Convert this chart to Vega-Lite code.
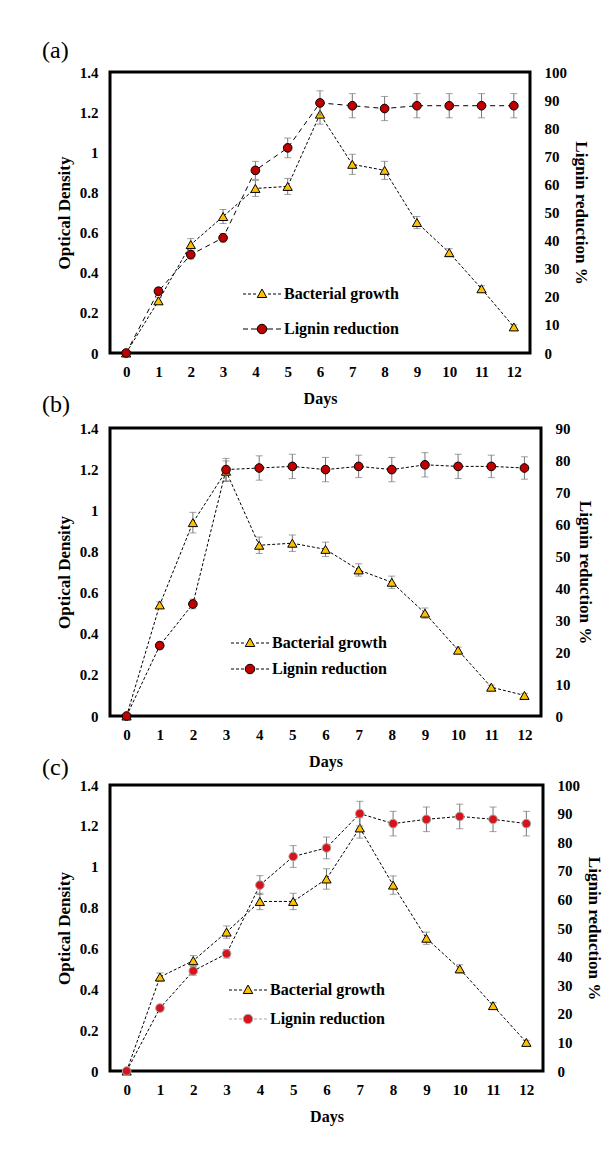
{
  "$schema": "https://vega.github.io/schema/vega-lite/v6.json",
  "background": "white",
  "padding": {"left": 40, "top": 37, "right": 5, "bottom": 5},
  "spacing": -17,
  "datasets": {
    "a": [
      {"day": 0, "od": 0, "ode": 0, "lig": 0, "lige": 0},
      {"day": 1, "od": 0.26, "ode": 0.015, "lig": 22, "lige": 1.2},
      {"day": 2, "od": 0.54, "ode": 0.03, "lig": 35, "lige": 1.5},
      {"day": 3, "od": 0.68, "ode": 0.035, "lig": 41, "lige": 1.5},
      {"day": 4, "od": 0.82, "ode": 0.04, "lig": 65, "lige": 3.2},
      {"day": 5, "od": 0.83, "ode": 0.04, "lig": 73, "lige": 3.5},
      {"day": 6, "od": 1.19, "ode": 0.05, "lig": 89, "lige": 4.3},
      {"day": 7, "od": 0.94, "ode": 0.05, "lig": 88, "lige": 4.3},
      {"day": 8, "od": 0.91, "ode": 0.045, "lig": 87, "lige": 4.3},
      {"day": 9, "od": 0.65, "ode": 0.03, "lig": 88, "lige": 4.3},
      {"day": 10, "od": 0.5, "ode": 0.02, "lig": 88, "lige": 4.3},
      {"day": 11, "od": 0.32, "ode": 0.015, "lig": 88, "lige": 4.3},
      {"day": 12, "od": 0.13, "ode": 0.01, "lig": 88, "lige": 4.3}
    ],
    "b": [
      {"day": 0, "od": 0, "ode": 0, "lig": 0, "lige": 0},
      {"day": 1, "od": 0.54, "ode": 0.015, "lig": 22, "lige": 1},
      {"day": 2, "od": 0.94, "ode": 0.05, "lig": 35, "lige": 1.5},
      {"day": 3, "od": 1.19, "ode": 0.05, "lig": 77, "lige": 3.5},
      {"day": 4, "od": 0.83, "ode": 0.04, "lig": 77.5, "lige": 3.8},
      {"day": 5, "od": 0.84, "ode": 0.04, "lig": 78, "lige": 3.8},
      {"day": 6, "od": 0.81, "ode": 0.035, "lig": 77, "lige": 3.8},
      {"day": 7, "od": 0.71, "ode": 0.03, "lig": 78, "lige": 3.5},
      {"day": 8, "od": 0.65, "ode": 0.03, "lig": 77, "lige": 3.8},
      {"day": 9, "od": 0.5, "ode": 0.025, "lig": 78.5, "lige": 3.8},
      {"day": 10, "od": 0.32, "ode": 0.015, "lig": 78, "lige": 3.8},
      {"day": 11, "od": 0.14, "ode": 0.01, "lig": 78, "lige": 3.5},
      {"day": 12, "od": 0.1, "ode": 0.01, "lig": 77.5, "lige": 3.5}
    ],
    "c": [
      {"day": 0, "od": 0, "ode": 0, "lig": 0, "lige": 0},
      {"day": 1, "od": 0.46, "ode": 0.02, "lig": 22, "lige": 1},
      {"day": 2, "od": 0.54, "ode": 0.025, "lig": 35, "lige": 1.5},
      {"day": 3, "od": 0.68, "ode": 0.03, "lig": 41, "lige": 1.5},
      {"day": 4, "od": 0.83, "ode": 0.04, "lig": 65, "lige": 3.3},
      {"day": 5, "od": 0.83, "ode": 0.04, "lig": 75, "lige": 3.8},
      {"day": 6, "od": 0.94, "ode": 0.05, "lig": 78, "lige": 3.8},
      {"day": 7, "od": 1.19, "ode": 0.05, "lig": 90, "lige": 4.3},
      {"day": 8, "od": 0.91, "ode": 0.045, "lig": 86.5, "lige": 4.3},
      {"day": 9, "od": 0.65, "ode": 0.03, "lig": 88, "lige": 4.3},
      {"day": 10, "od": 0.5, "ode": 0.02, "lig": 89, "lige": 4.3},
      {"day": 11, "od": 0.32, "ode": 0.015, "lig": 88, "lige": 4.3},
      {"day": 12, "od": 0.14, "ode": 0.01, "lig": 86.5, "lige": 4.3}
    ],
    "leg": [
      {"s": "Bacterial growth"},
      {"s": "Lignin reduction"}
    ]
  },
  "config": {
    "font": "Liberation Serif",
    "view": {"stroke": "black", "strokeWidth": 3},
    "axis": {
      "grid": false, "ticks": false, "domain": false,
      "labelFont": "Liberation Serif", "labelFontWeight": "bold", "labelFontSize": 15, "labelColor": "black",
      "titleFont": "Liberation Serif", "titleFontWeight": "bold", "titleFontSize": 17, "titleColor": "black"
    },
    "legend": {
      "title": null, "orient": "none", "padding": 0,
      "labelFont": "Liberation Serif", "labelFontWeight": "bold", "labelFontSize": 16, "labelColor": "black",
      "labelOffset": 14, "symbolSize": 100, "symbolStrokeWidth": 1
    },
    "title": {"font": "Liberation Serif", "fontSize": 24, "fontWeight": "normal", "anchor": "start", "color": "black", "frame": "group"}
  },
  "resolve": {"scale": {"shape": "independent", "fill": "independent", "stroke": "independent"}},
  "vconcat": [
    {
      "title": {"text": "(a)", "dx": -68, "offset": 2},
      "width": 420, "height": 281,
      "data": {"name": "a"},
      "encoding": {"x": {"field": "day", "type": "quantitative", "scale": {"domain": [-0.5, 12.5], "nice": false, "zero": false}, "axis": {"values": [0,1,2,3,4,5,6,7,8,9,10,11,12], "title": "Days", "titleFontSize": 16, "labelPadding": 11, "titlePadding": 11, "labelFlush": false}}},
      "layer": [
        {
          "encoding": {"y": {"field": "od", "type": "quantitative", "scale": {"domain": [0, 1.4], "nice": false}, "axis": {"title": "Optical Density", "values": [0,0.2,0.4,0.6,0.8,1,1.2,1.4], "format": ".1~f", "labelPadding": 12, "titlePadding": 6}}},
          "layer": [
            {"mark": {"type": "errorbar", "color": "#777777", "thickness": 1, "ticks": {"size": 7, "color": "#777777"}}, "encoding": {"yError": {"field": "ode"}}},
            {"mark": {"type": "line", "color": "black", "strokeWidth": 1, "strokeDash": [3, 2]}, "encoding": {}},
            {"mark": {"type": "point", "shape": "triangle-up", "filled": true, "fill": "#FFC000", "stroke": "black", "strokeWidth": 1, "size": 85, "opacity": 1}, "encoding": {}}
          ]
        },
        {
          "encoding": {"y": {"field": "lig", "type": "quantitative", "scale": {"domain": [0, 100], "nice": false}, "axis": {"title": "Lignin reduction %", "values": [0,10,20,30,40,50,60,70,80,90,100], "labelPadding": 14, "titlePadding": 5}}},
          "layer": [
            {"mark": {"type": "errorbar", "color": "#777777", "thickness": 1, "ticks": {"size": 7, "color": "#777777"}}, "encoding": {"yError": {"field": "lige"}}},
            {"mark": {"type": "line", "color": "black", "strokeWidth": 1, "strokeDash": [5, 4]}, "encoding": {}},
            {"mark": {"type": "point", "shape": "circle", "filled": true, "fill": "#C00000", "stroke": "black", "strokeWidth": 1, "size": 75, "opacity": 1}, "encoding": {}},
            {
              "data": {"name": "leg"},
              "transform": [{"filter": "false"}],
              "mark": {"type": "point", "filled": true, "opacity": 1},
              "encoding": {
                "shape": {"field": "s", "type": "nominal", "scale": {"domain": ["Bacterial growth", "Lignin reduction"], "range": ["M-3.8,0H-3.2M-2.8,0H-2.2M-1.8,0H-1.2M1.2,0H1.8M2.2,0H2.8M3.2,0H3.8M0,-1L0.95,0.7L-0.95,0.7Z", "M-3.8,0H-2.8M-2.2,0H-0.95M0.95,0H2.2M2.8,0H3.8M-0.95,0A0.95,0.95 0 1,1 0.95,0A0.95,0.95 0 1,1 -0.95,0Z"]}, "legend": {"orient": "none", "legendX": 144, "legendY": 214, "rowPadding": 19}},
                "fill": {"field": "s", "type": "nominal", "scale": {"domain": ["Bacterial growth", "Lignin reduction"], "range": ["#FFC000", "#C00000"]}},
                "stroke": {"field": "s", "type": "nominal", "scale": {"domain": ["Bacterial growth", "Lignin reduction"], "range": ["black", "black"]}}
              }
            }
          ]
        }
      ],
      "resolve": {"scale": {"y": "independent"}}
    },
    {
      "title": {"text": "(b)", "dx": -68, "offset": 4},
      "width": 431, "height": 288,
      "data": {"name": "b"},
      "encoding": {"x": {"field": "day", "type": "quantitative", "scale": {"domain": [-0.5, 12.5], "nice": false, "zero": false}, "axis": {"values": [0,1,2,3,4,5,6,7,8,9,10,11,12], "title": "Days", "titleFontSize": 16, "labelPadding": 11, "titlePadding": 11, "labelFlush": false}}},
      "layer": [
        {
          "encoding": {"y": {"field": "od", "type": "quantitative", "scale": {"domain": [0, 1.4], "nice": false}, "axis": {"title": "Optical Density", "values": [0,0.2,0.4,0.6,0.8,1,1.2,1.4], "format": ".1~f", "labelPadding": 12, "titlePadding": 6}}},
          "layer": [
            {"mark": {"type": "errorbar", "color": "#777777", "thickness": 1, "ticks": {"size": 7, "color": "#777777"}}, "encoding": {"yError": {"field": "ode"}}},
            {"mark": {"type": "line", "color": "black", "strokeWidth": 1, "strokeDash": [3, 2]}, "encoding": {}},
            {"mark": {"type": "point", "shape": "triangle-up", "filled": true, "fill": "#FFC000", "stroke": "black", "strokeWidth": 1, "size": 85, "opacity": 1}, "encoding": {}}
          ]
        },
        {
          "encoding": {"y": {"field": "lig", "type": "quantitative", "scale": {"domain": [0, 90], "nice": false}, "axis": {"title": "Lignin reduction %", "values": [0,10,20,30,40,50,60,70,80,90], "labelPadding": 14, "titlePadding": 5}}},
          "layer": [
            {"mark": {"type": "errorbar", "color": "#777777", "thickness": 1, "ticks": {"size": 7, "color": "#777777"}}, "encoding": {"yError": {"field": "lige"}}},
            {"mark": {"type": "line", "color": "black", "strokeWidth": 1, "strokeDash": [3, 2]}, "encoding": {}},
            {"mark": {"type": "point", "shape": "circle", "filled": true, "fill": "#C00000", "stroke": "black", "strokeWidth": 1, "size": 75, "opacity": 1}, "encoding": {}},
            {
              "data": {"name": "leg"},
              "transform": [{"filter": "false"}],
              "mark": {"type": "point", "filled": true, "opacity": 1},
              "encoding": {
                "shape": {"field": "s", "type": "nominal", "scale": {"domain": ["Bacterial growth", "Lignin reduction"], "range": ["M-3.8,0H-3.2M-2.8,0H-2.2M-1.8,0H-1.2M1.2,0H1.8M2.2,0H2.8M3.2,0H3.8M0,-1L0.95,0.7L-0.95,0.7Z", "M-3.8,0H-3.2M-2.8,0H-2.2M-1.8,0H-1.2M1.2,0H1.8M2.2,0H2.8M3.2,0H3.8M-0.95,0A0.95,0.95 0 1,1 0.95,0A0.95,0.95 0 1,1 -0.95,0Z"]}, "legend": {"orient": "none", "legendX": 132, "legendY": 207, "rowPadding": 10}},
                "fill": {"field": "s", "type": "nominal", "scale": {"domain": ["Bacterial growth", "Lignin reduction"], "range": ["#FFC000", "#C00000"]}},
                "stroke": {"field": "s", "type": "nominal", "scale": {"domain": ["Bacterial growth", "Lignin reduction"], "range": ["black", "black"]}}
              }
            }
          ]
        }
      ],
      "resolve": {"scale": {"y": "independent"}}
    },
    {
      "title": {"text": "(c)", "dx": -68, "offset": -2},
      "width": 433, "height": 286,
      "data": {"name": "c"},
      "encoding": {"x": {"field": "day", "type": "quantitative", "scale": {"domain": [-0.5, 12.5], "nice": false, "zero": false}, "axis": {"values": [0,1,2,3,4,5,6,7,8,9,10,11,12], "title": "Days", "titleFontSize": 16, "labelPadding": 11, "titlePadding": 11, "labelFlush": false}}},
      "layer": [
        {
          "encoding": {"y": {"field": "od", "type": "quantitative", "scale": {"domain": [0, 1.4], "nice": false}, "axis": {"title": "Optical Density", "values": [0,0.2,0.4,0.6,0.8,1,1.2,1.4], "format": ".1~f", "labelPadding": 12, "titlePadding": 6}}},
          "layer": [
            {"mark": {"type": "errorbar", "color": "#777777", "thickness": 1, "ticks": {"size": 7, "color": "#777777"}}, "encoding": {"yError": {"field": "ode"}}},
            {"mark": {"type": "line", "color": "black", "strokeWidth": 1, "strokeDash": [3, 2]}, "encoding": {}},
            {"mark": {"type": "point", "shape": "triangle-up", "filled": true, "fill": "#FFC000", "stroke": "black", "strokeWidth": 1, "size": 85, "opacity": 1}, "encoding": {}}
          ]
        },
        {
          "encoding": {"y": {"field": "lig", "type": "quantitative", "scale": {"domain": [0, 100], "nice": false}, "axis": {"title": "Lignin reduction %", "values": [0,10,20,30,40,50,60,70,80,90,100], "labelPadding": 14, "titlePadding": 5}}},
          "layer": [
            {"mark": {"type": "errorbar", "color": "#777777", "thickness": 1, "ticks": {"size": 7, "color": "#777777"}}, "encoding": {"yError": {"field": "lige"}}},
            {"mark": {"type": "line", "color": "black", "strokeWidth": 1, "strokeDash": [3, 2]}, "encoding": {}},
            {"mark": {"type": "point", "shape": "circle", "filled": true, "fill": "#D7141C", "stroke": "#A8A8A8", "strokeWidth": 1, "size": 75, "opacity": 1}, "encoding": {}},
            {
              "data": {"name": "leg"},
              "transform": [{"filter": "false"}],
              "mark": {"type": "point", "filled": true, "opacity": 1},
              "encoding": {
                "shape": {"field": "s", "type": "nominal", "scale": {"domain": ["Bacterial growth", "Lignin reduction"], "range": ["M-3.8,0H-3.2M-2.8,0H-2.2M-1.8,0H-1.2M1.2,0H1.8M2.2,0H2.8M3.2,0H3.8M0,-1L0.95,0.7L-0.95,0.7Z", "M-3.8,0H-3.2M-2.8,0H-2.2M-1.8,0H-1.2M1.2,0H1.8M2.2,0H2.8M3.2,0H3.8M-0.95,0A0.95,0.95 0 1,1 0.95,0A0.95,0.95 0 1,1 -0.95,0Z"]}, "legend": {"orient": "none", "legendX": 130, "legendY": 197, "rowPadding": 13}},
                "fill": {"field": "s", "type": "nominal", "scale": {"domain": ["Bacterial growth", "Lignin reduction"], "range": ["#FFC000", "#D7141C"]}},
                "stroke": {"field": "s", "type": "nominal", "scale": {"domain": ["Bacterial growth", "Lignin reduction"], "range": ["black", "#A8A8A8"]}}
              }
            }
          ]
        }
      ],
      "resolve": {"scale": {"y": "independent"}}
    }
  ]
}
